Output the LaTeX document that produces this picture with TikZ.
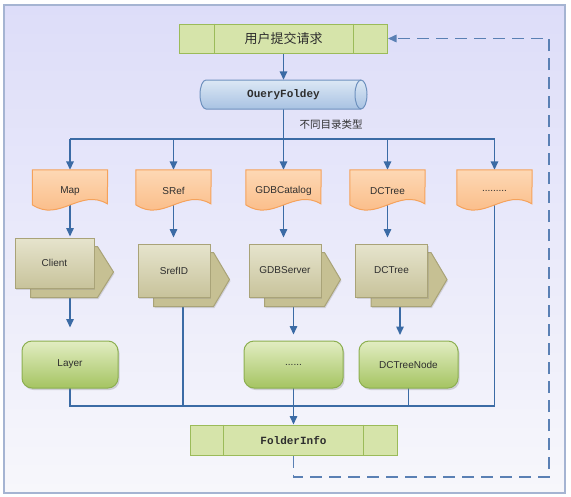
\documentclass[tikz,border=0pt]{standalone}
\usepackage{fontspec}
\setmainfont{Liberation Sans}
\setmonofont{Liberation Mono}
\newfontfamily\cjk{Noto Sans CJK SC}
\usetikzlibrary{shapes.geometric,arrows.meta,calc,shadows}
\pgfdeclarelayer{bg}\pgfdeclarelayer{lines}\pgfdeclarelayer{back}
\pgfsetlayers{bg,lines,back,main}
\definecolor{lineblue}{HTML}{3B6BA5}
\definecolor{dashblue}{HTML}{5A80B4}
\definecolor{framec}{HTML}{A5B4D2}
\definecolor{bgtop}{HTML}{DDDDF9}
\definecolor{bgbot}{HTML}{F7F7FB}
\definecolor{barfill}{HTML}{D6E4AA}
\definecolor{barborder}{HTML}{9BBB59}
\definecolor{cyltop}{HTML}{DCE8F5}
\definecolor{cylbot}{HTML}{A8C2E2}
\definecolor{cylborder}{HTML}{6E91BE}
\definecolor{doctop}{HTML}{FDD8B4}
\definecolor{docbot}{HTML}{FAB67E}
\definecolor{docborder}{HTML}{F5A25B}
\definecolor{tapetop}{HTML}{E6E4CD}
\definecolor{tapebot}{HTML}{C8C39B}
\definecolor{tapeborder}{HTML}{A9A378}
\definecolor{tapeback}{HTML}{C6C093}
\definecolor{gtop}{HTML}{E2EDC2}
\definecolor{gbot}{HTML}{A5C462}
\definecolor{gborder}{HTML}{8CAF50}
\definecolor{textc}{HTML}{2E2E2E}
\tikzset{
  conn/.style={draw=lineblue, line width=1.5pt},
  arr/.style={conn, -{Triangle[width=7.5pt,length=8.5pt]}},
  dasharr/.style={draw=dashblue, line width=1.5pt, dash pattern=on 12pt off 7pt, -{Triangle[width=7.5pt,length=8.5pt]}},
  barbox/.style={rectangle, draw=barborder, fill=barfill, line width=1pt, minimum height=29pt, inner sep=0pt, text=textc},
  barline/.style={draw=barborder, line width=1pt},
  drumnode/.style={rectangle, minimum width=167pt, minimum height=29pt, inner sep=0pt, text=textc, font=\ttfamily\bfseries\fontsize{11}{13}\selectfont},
  drumdraw/.style={draw=cylborder, line width=1pt, top color=cyltop, bottom color=cylbot},
  docnode/.style={rectangle, minimum width=75pt, minimum height=42pt, inner sep=0pt, text=textc, font=\fontsize{10}{12}\selectfont},
  docdraw/.style={draw=docborder, line width=1pt, top color=doctop, bottom color=docbot},
  tapefront/.style={rectangle, draw=tapeborder, line width=1pt, top color=tapetop, bottom color=tapebot, minimum width=72pt, minimum height=53pt, inner sep=0pt, text=textc, font=\fontsize{10}{12}\selectfont, drop shadow={opacity=0.25, shadow xshift=1pt, shadow yshift=-1.5pt}},
  tapebackdraw/.style={draw=tapeborder, line width=1pt, fill=tapeback, drop shadow={opacity=0.25, shadow xshift=1pt, shadow yshift=-1.5pt}},
  gbox/.style={rectangle, rounded corners=10pt, draw=gborder, line width=1pt, top color=gtop, bottom color=gbot, minimum width=99pt, minimum height=47pt, inner sep=0pt, text=textc, font=\fontsize{10}{12}\selectfont, drop shadow={opacity=0.3, shadow xshift=1.5pt, shadow yshift=-2pt}},
}
\newcommand\mydoc[1]{\begin{pgfonlayer}{back}
  \draw[docdraw] (#1.north west) -- (#1.north east) -- ($(#1.north west)+(75,34)$)
    .. controls ($(#1.north west)+(48,18)$) and ($(#1.north west)+(27,53)$) .. ($(#1.north west)+(0,35)$) -- cycle;
  \end{pgfonlayer}}
\newcommand\myback[1]{\begin{pgfonlayer}{back}
  \draw[tapebackdraw] ($(#1.north west)+(16,9)$) -- ($(#1.north east)+(3,9)$) -- ($(#1.east)+(19,9)$)
    -- ($(#1.south east)+(3,9)$) -- ($(#1.south west)+(16,9)$) -- cycle;
  \end{pgfonlayer}}
\begin{document}
\begin{tikzpicture}[x=1pt,y=-1pt]
\useasboundingbox (0,0) rectangle (571,496);
\begin{pgfonlayer}{bg}
  \fill[white] (0,0) rectangle (571,496);
  \draw[draw=framec, line width=1.5pt, top color=bgtop, bottom color=bgbot] (4,5) rectangle (565,493);
\end{pgfonlayer}

% top request bar
\node[barbox, minimum width=208pt, font=\cjk\fontsize{13}{15}\selectfont] (top) at (283.5,38.5) {用户提交请求};
\draw[barline] ([xshift=35pt]top.north west) -- ([xshift=35pt]top.south west);
\draw[barline] ([xshift=-35pt]top.north east) -- ([xshift=-35pt]top.south east);

% cylinder (horizontal drum)
\node[drumnode] (cyl) at (283.5,94.5) {OueryFoldey};
\begin{pgfonlayer}{back}
  \begin{scope}[shift={(cyl.center)}]
    \draw[drumdraw] (-77.5,-14.5) -- (77.5,-14.5) arc[start angle=-90, end angle=90, x radius=6, y radius=14.5]
      -- (-77.5,14.5) arc[start angle=90, end angle=270, x radius=6, y radius=14.5] -- cycle;
    \draw[draw=cylborder, line width=1pt] (77.5,-14.5) arc[start angle=-90, end angle=-270, x radius=6, y radius=14.5];
  \end{scope}
\end{pgfonlayer}
\node[text=textc, font=\cjk\fontsize{10.5}{12}\selectfont] (lbl) at (331,125) {不同目录类型};

% documents
\node[docnode] (map) at (70,191) {Map};
\node[docnode] (sref) at (173.5,191) {SRef};
\node[docnode] (gdbc) at (283.5,191) {GDBCatalog};
\node[docnode] (dct) at (387.5,191) {DCTree};
\node[docnode] (more) at (494.5,191) {.........};
\mydoc{map}\mydoc{sref}\mydoc{gdbc}\mydoc{dct}\mydoc{more}

% tape / multi shapes
\node[tapefront, minimum width=79pt, minimum height=50pt] (client) at (54.5,263) {Client};
\node[tapefront] (srefid) at (174,270.5) {SrefID};
\node[tapefront] (gdbs) at (285,270.5) {GDBServer};
\node[tapefront] (dctree) at (391.5,270.5) {DCTree};
\myback{client}\myback{srefid}\myback{gdbs}\myback{dctree}

% green boxes
\node[gbox, minimum width=96pt] (layer) at (70,364.5) {Layer};
\node[gbox] (dots) at (293.5,364.5) {......};
\node[gbox] (dctn) at (408.5,364.5) {DCTreeNode};

% folder info
\node[barbox, minimum width=207pt, minimum height=30pt, font=\ttfamily\bfseries\fontsize{11}{13}\selectfont] (folder) at (293.5,440) {FolderInfo};
\draw[barline] ([xshift=34pt]folder.north west) -- ([xshift=34pt]folder.south west);
\draw[barline] ([xshift=-34pt]folder.north east) -- ([xshift=-34pt]folder.south east);

\coordinate (t1) at (70,139);
\coordinate (t5) at (494.5,139);
\coordinate (u1) at (70,406);
\coordinate (u5) at (494.5,406);
\coordinate (bs) at (183,406);
\coordinate (dctin) at (400,341);
\coordinate (d1) at (549,477);
\coordinate (d2) at (549,38.5);

\begin{pgfonlayer}{lines}
  \draw[arr] (top.south) -- (cyl.north);
  \draw[conn] (cyl.center) -- (cyl.center |- t1);
  \draw[conn] (t1) -- (t5);
  \draw[arr] (t1) -- (map.north);
  \draw[arr] (sref.north |- t1) -- (sref.north);
  \draw[arr] (gdbc.north |- t1) -- (gdbc.north);
  \draw[arr] (dct.north |- t1) -- (dct.north);
  \draw[arr] (t5) -- (more.north);
  \draw[arr, shorten >=1pt] (map.center) -- (map.center |- client.north);
  \draw[arr, shorten >=6pt] (sref.center) -- (sref.center |- srefid.north);
  \draw[arr, shorten >=6pt] (gdbc.center) -- (gdbc.center |- gdbs.north);
  \draw[arr, shorten >=6pt] (dct.center) -- (dct.center |- dctree.north);
  \draw[arr, shorten >=13pt] (client.center -| layer.north) -- (layer.north);
  \draw[arr, shorten >=6pt] (gdbs.center -| dots.north) -- (dots.north);
  \draw[arr, shorten >=6pt] (dctree.center -| dctin) -- (dctin);
  \draw[conn] (srefid.center -| bs) -- (bs);
  \draw[conn] (layer.center) -- (u1) -- (u5) -- (more.center);
  \draw[conn] (dctn.center) -- (dctn.center |- u1);
  \draw[arr] (dots.center) -- (folder.north);
  \draw[dasharr] (folder.south) |- (d1) -- (d2) -- (top.east);
\end{pgfonlayer}
\end{tikzpicture}
\end{document}
